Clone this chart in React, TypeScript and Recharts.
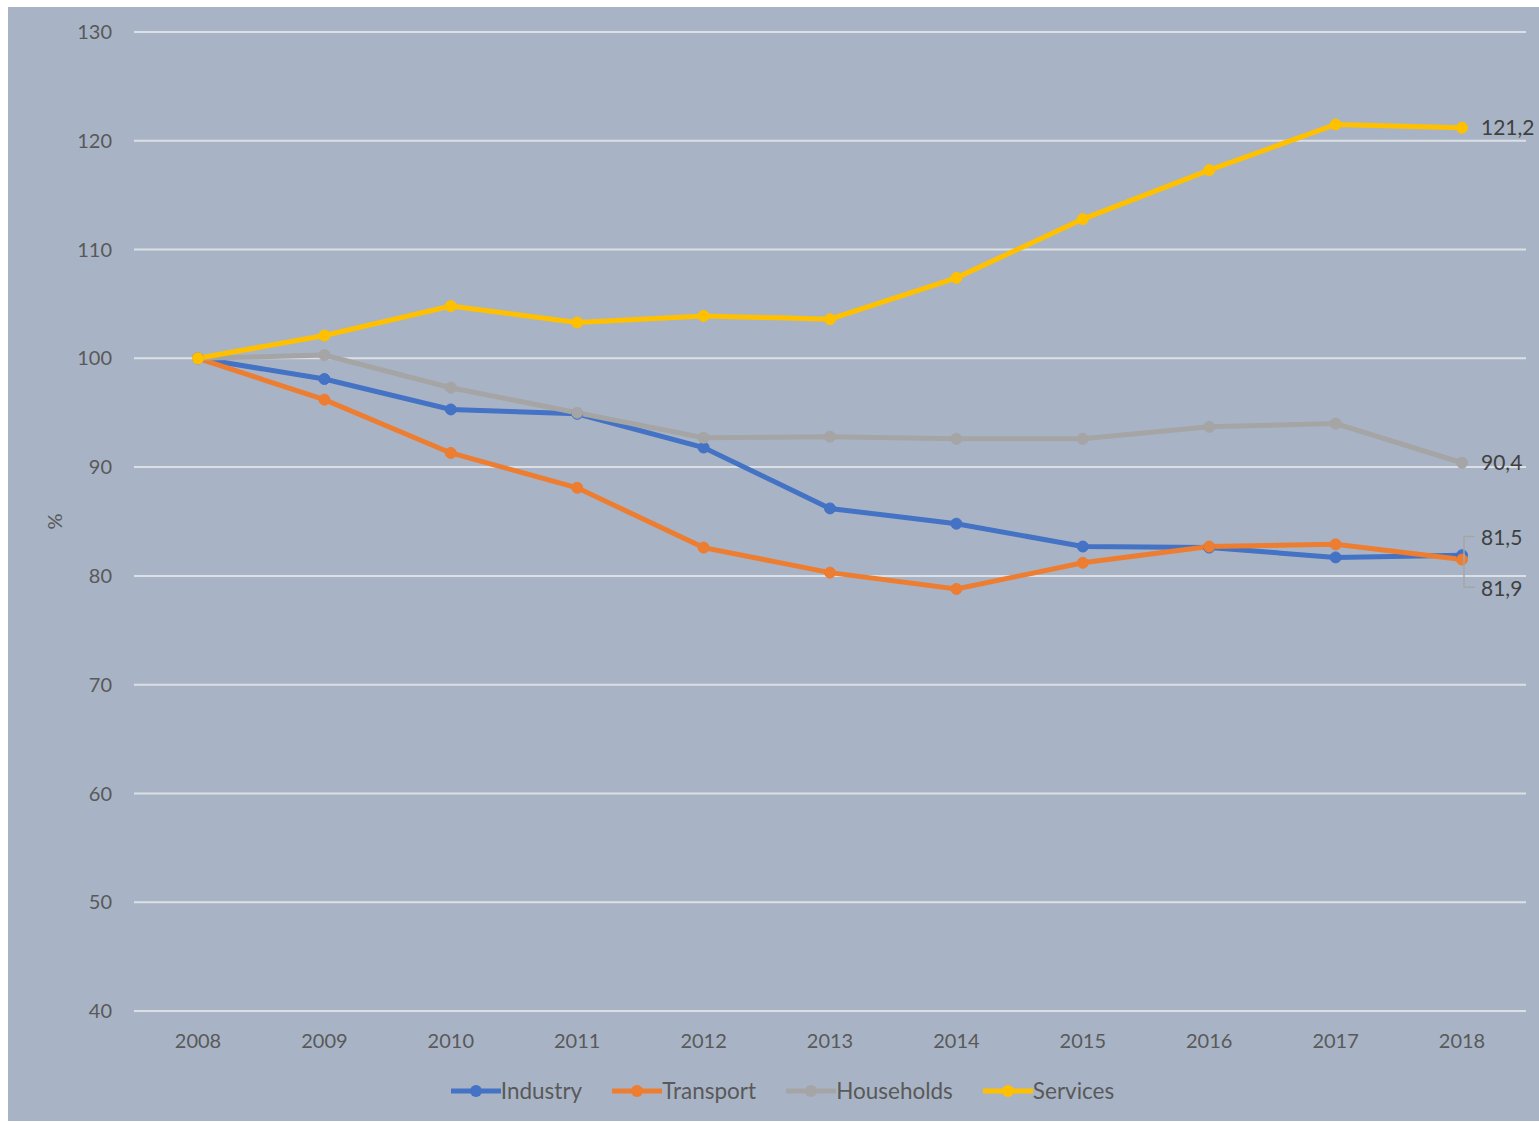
import React from 'react';
import { LineChart, Line, XAxis, YAxis, CartesianGrid, Legend, LabelList, Label } from 'recharts';

const years = ['2008', '2009', '2010', '2011', '2012', '2013', '2014', '2015', '2016', '2017', '2018'];
const industry = [100, 98.1, 95.3, 94.9, 91.8, 86.2, 84.8, 82.7, 82.6, 81.7, 81.9];
const transport = [100, 96.2, 91.3, 88.1, 82.6, 80.3, 78.8, 81.2, 82.7, 82.9, 81.5];
const households = [100, 100.3, 97.3, 95.0, 92.7, 92.8, 92.6, 92.6, 93.7, 94.0, 90.4];
const services = [100, 102.1, 104.8, 103.3, 103.9, 103.6, 107.4, 112.8, 117.3, 121.5, 121.2];
const yTicks = [40, 50, 60, 70, 80, 90, 100, 110, 120, 130];

const seriesDefs = [
  { key: 'industry', name: 'Industry', color: '#4472C4' },
  { key: 'transport', name: 'Transport', color: '#ED7D31' },
  { key: 'households', name: 'Households', color: '#A5A5A5' },
  { key: 'services', name: 'Services', color: '#FFC000' },
];

const data = years.map((y, i) => ({
  year: y,
  industry: industry[i],
  transport: transport[i],
  households: households[i],
  services: services[i],
}));

const FONT = 'Lato, "Open Sans", sans-serif';
const fmt = (v: number) => v.toFixed(1).replace('.', ',');

const makeEndLabel = (mode: 'right' | 'up' | 'down') => (props: any) => {
  const { x, y, value, index } = props;
  if (index !== years.length - 1) return null;
  const txt = fmt(Number(value));
  if (mode === 'right') {
    return (
      <text x={x + 19} y={y} dy="0.35em" fill="#404040" fontSize={21} fontFamily={FONT}>{txt}</text>
    );
  }
  const ty = mode === 'up' ? y - 22 : y + 33;
  return (
    <g>
      <polyline points={`${x + 2},${y} ${x + 2},${ty - 1} ${x + 13},${ty - 1}`} fill="none" stroke="#A5A5A5" strokeWidth={1.5} />
      <text x={x + 19} y={ty} dy="0.35em" fill="#404040" fontSize={21} fontFamily={FONT}>{txt}</text>
    </g>
  );
};

const LegendContent = () => (
  <div style={{ display: 'flex', justifyContent: 'center', alignItems: 'center', gap: 30, fontFamily: FONT, fontSize: 22.5, color: '#595959', marginLeft: 18 }}>
    {seriesDefs.map((s) => (
      <div key={s.key} style={{ display: 'flex', alignItems: 'center' }}>
        <svg width={50} height={16} style={{ display: 'block' }}>
          <line x1={0} y1={8} x2={50} y2={8} stroke={s.color} strokeWidth={5} />
          <circle cx={25} cy={8} r={6} fill={s.color} />
        </svg>
        <span>{s.name}</span>
      </div>
    ))}
  </div>
);

const modes: Record<string, 'right' | 'up' | 'down'> = {
  industry: 'down',
  transport: 'up',
  households: 'right',
  services: 'right',
};

export default function App() {
  return (
    <div style={{ position: 'fixed', left: 8, top: 7, width: 1531, height: 1114, background: '#A8B4C5' }}>
      <LineChart width={1531} height={1114} data={data} margin={{ top: 25, right: 13, left: 0, bottom: 70 }}>
        <CartesianGrid horizontal vertical={false} stroke="#DCDFE4" strokeWidth={2} />
        <XAxis
          dataKey="year"
          axisLine={false}
          tickLine={false}
          tickSize={0}
          tickMargin={23}
          height={40}
          padding={{ left: 64, right: 64 }}
          tick={{ fill: '#595959', fontSize: 20, fontFamily: FONT }}
        />
        <YAxis
          domain={[40, 130]}
          ticks={yTicks}
          interval={0}
          axisLine={false}
          tickLine={false}
          tickSize={0}
          tickMargin={22}
          width={126}
          tick={{ fill: '#595959', fontSize: 20, fontFamily: FONT }}
        >
          <Label
            content={(p: any) => {
              const vb = p.viewBox || {};
              const cy = vb.y + vb.height / 2;
              return (
                <text x={47} y={cy} transform={`rotate(-90 47 ${cy})`} textAnchor="middle" dy="0.35em" fill="#595959" fontSize={20} fontFamily={FONT}>%</text>
              );
            }}
          />
        </YAxis>
        <Legend
          layout="horizontal"
          verticalAlign="middle"
          align="center"
          wrapperStyle={{ position: 'absolute', top: 1070, left: 0, width: 1531 }}
          content={() => <LegendContent />}
        />
        {seriesDefs.map((s) => (
          <Line
            key={s.key}
            type="linear"
            dataKey={s.key}
            name={s.name}
            stroke={s.color}
            strokeWidth={5}
            dot={{ r: 5.5, fill: s.color, stroke: s.color, strokeWidth: 1 }}
            activeDot={false}
            isAnimationActive={false}
          >
            <LabelList dataKey={s.key} content={makeEndLabel(modes[s.key])} />
          </Line>
        ))}
      </LineChart>
    </div>
  );
}
